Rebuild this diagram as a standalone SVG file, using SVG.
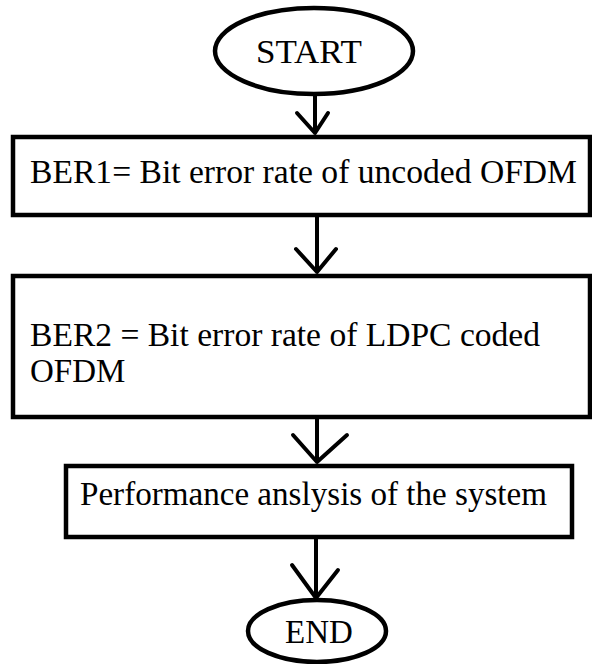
<svg xmlns="http://www.w3.org/2000/svg" width="592" height="664" viewBox="0 0 592 664">
<style>
.shape{fill:#fff;stroke:#000;stroke-width:4.5}
.line{fill:none;stroke:#000;stroke-width:4;stroke-linecap:round;stroke-linejoin:round}
.t{font-family:"Liberation Serif","Times New Roman",serif;font-size:33px;fill:#000}
</style>
<rect width="592" height="664" fill="#fff"/>
<g id="connectors">
<path class="line" d="M315 95V133M297 113L315 133L328 113"/>
<path class="line" d="M317 215V272M296 249L317 272L336 249"/>
<path class="line" d="M317 417V462M293 435L317 462L347 435"/>
<path class="line" d="M316 537V598M292 565L316 598L338 570"/>
</g>
<g id="start">
<ellipse class="shape" cx="314" cy="51" rx="99" ry="43"/>
<text class="t" x="309" y="63" text-anchor="middle" textLength="106" lengthAdjust="spacingAndGlyphs">START</text>
</g>
<g id="ber1">
<rect class="shape" x="13" y="137" width="577" height="78"/>
<text class="t" x="30" y="183" textLength="547" lengthAdjust="spacingAndGlyphs">BER1= Bit error rate of uncoded OFDM</text>
</g>
<g id="ber2">
<rect class="shape" x="13" y="276" width="577" height="141"/>
<text class="t" x="30" y="346" textLength="510" lengthAdjust="spacingAndGlyphs">BER2 = Bit error rate of LDPC coded</text>
<text class="t" x="30" y="382">OFDM</text>
</g>
<g id="perf">
<rect class="shape" x="66" y="466" width="506" height="71"/>
<text class="t" x="80" y="505" textLength="467" lengthAdjust="spacingAndGlyphs">Performance anslysis of the system</text>
</g>
<g id="end">
<ellipse class="shape" cx="317" cy="631" rx="69" ry="31"/>
<text class="t" x="319" y="643" text-anchor="middle">END</text>
</g>
</svg>
